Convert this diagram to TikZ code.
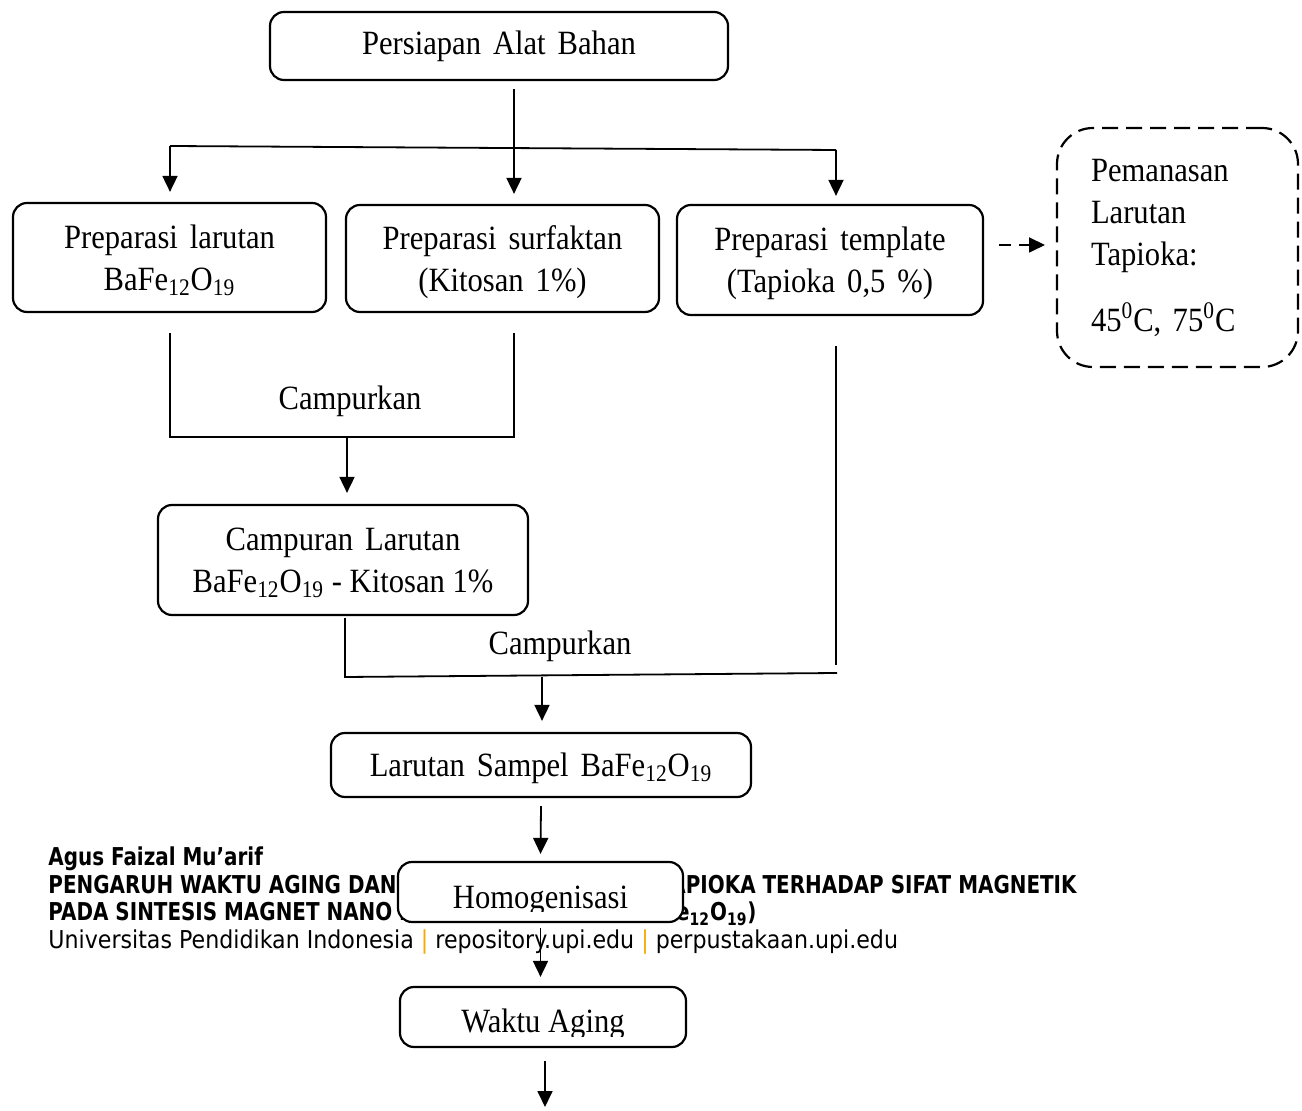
\documentclass[tikz,border=0pt]{standalone}
\usepackage{fontspec}
\setmainfont{Liberation Serif}[FakeStretch = 0.9]
\newfontfamily\footfont{DejaVu Sans}[FakeStretch = 0.9]
\newfontfamily\footbold{DejaVu Sans}[FakeStretch = 0.81]
\usetikzlibrary{
    arrows.meta
}
\definecolor{footbar}{RGB}{245,170,0}
\newcommand{\bafe}{BaFe\textsubscript{12}O\textsubscript{19}}
\tikzset {
    stepbox/.style = {draw, fill = white, rounded corners = 7pt, line width = 1.1pt,
        align = center, inner sep = 0pt,
        font = {\fontsize{17}{21}\selectfont\spaceskip 6pt plus 1pt\relax}},
    low text/.style = {text depth = -1pt},
    heatbox/.style = {draw, dash pattern = on 8pt off 4pt, rounded corners = 18pt,
        line width = 1.1pt, align = left, inner sep = 0pt},
    empty/.style = {inner sep = 0pt},
    link/.style = {line width = 0.9pt},
    flow/.style = {link, -{Triangle[width = 7.5pt, length = 8pt]}},
    foot/.style = {inner sep = 0pt, font = \footfont\fontsize{12.3}{14}\selectfont},
    foot bold/.style = {inner sep = 0pt, font = \footbold\bfseries\fontsize{12.3}{14}\selectfont}
}
\begin{document}
\begin{tikzpicture}[x = 0.5pt, y = -0.5pt, font = \fontsize{17}{21}\selectfont]
    \useasboundingbox (0, 0) rectangle (1302, 1111);
    % page footer lying under the chart
    \node (author) [foot bold, anchor = base west] at (48, 866) {Agus Faizal Mu’arif};
    \node (titleA) [foot bold, anchor = base west] at (48, 894) {PENGARUH WAKTU AGING DAN};
    \node (titleB) [foot bold, anchor = base east] at (1077, 894) {APIOKA TERHADAP SIFAT MAGNETIK};
    \node (titleC) [foot bold, anchor = base west] at (48, 921) {PADA SINTESIS MAGNET NANO B};
    \node (titleD) [foot bold, anchor = base east] at (757, 921) {Fe\textsubscript{12}O\textsubscript{19})};
    \node (univ) [foot, anchor = base west] at (48, 949) {Universitas Pendidikan Indonesia
        {\color{footbar}|} repository.upi.edu {\color{footbar}|} perpustakaan.upi.edu};
    % boxes
    \node (prep) [stepbox, minimum width = 229pt, minimum height = 34pt] at (499, 46)
        {Persiapan Alat Bahan};
    \node (prepBa) [stepbox, low text, minimum width = 156.5pt, minimum height = 54.5pt]
        at (169.5, 257.5) {Preparasi larutan\\\bafe};
    \node (prepKit) [stepbox, low text, minimum width = 156.5pt, minimum height = 53.5pt]
        at (502.5, 258.5) {Preparasi surfaktan\\(Kitosan 1\%)};
    \node (prepTap) [stepbox, low text, minimum width = 153pt, minimum height = 55pt]
        at (830, 260) {Preparasi template\\(Tapioka 0,5 \%)};
    \node (heat) [heatbox, minimum width = 120.5pt, minimum height = 119.5pt,
        text width = 86.5pt] at (1177.5, 247.5)
        {Pemanasan\\Larutan\\Tapioka:\\[12pt]45\textsuperscript{0}C, 75\textsuperscript{0}C};
    \node (mixA) [stepbox, low text, minimum width = 185pt, minimum height = 55pt]
        at (343, 560) {Campuran Larutan\\{\spaceskip 0pt\relax\bafe{} - Kitosan 1\%}};
    \node (sample) [stepbox, low text, minimum width = 210pt, minimum height = 32pt]
        at (541, 765) {Larutan Sampel \bafe};
    \node (homog) [stepbox, minimum width = 142.5pt, minimum height = 30pt] at (540.5, 892) {};
    \node (aging) [stepbox, minimum width = 143pt, minimum height = 30pt] at (543, 1017) {};
    \begin{scope}
        \clip (homog.north west) rectangle ([yshift = 6pt]homog.south east);
        \node (homogT) [empty, anchor = base] at (540.5, 909) {Homogenisasi};
    \end{scope}
    \begin{scope}
        \clip (aging.north west) rectangle ([yshift = 6pt]aging.south east);
        \node (agingT) [empty, anchor = base] at (543, 1033) {Waktu Aging};
    \end{scope}
    % labels
    \node (mixLab1) [empty] at (350, 401) {Campurkan};
    \node (mixLab2) [empty] at (560, 646) {Campurkan};
    % junction points
    \coordinate (fork) at (514, 147);
    \coordinate (busL) at (170, 146);
    \coordinate (busR) at (836, 150);
    \coordinate (m1L) at (170, 437);
    \coordinate (m1R) at (514, 437);
    \coordinate (m1mid) at (347, 437);
    \coordinate (m2L) at (345, 677);
    \coordinate (m2R) at (837, 673);
    \coordinate (m2top) at (836, 665);
    \coordinate (m2mid) at (542, 677);
    \coordinate (heatIn) at (1045, 245);
    \coordinate (next) at (545, 1107);
    % connectors
    \draw [flow] ([yshift = -4pt]prep.south -| fork) -- ([yshift = 5pt]prepKit.north -| fork);
    \draw [link] (busL) -- (busR);
    \draw [flow] (busL) -- ([yshift = 5pt]prepBa.north -| busL);
    \draw [flow] (busR) -- ([yshift = 4pt]prepTap.north -| busR);
    \draw [flow, dash pattern = on 6pt off 4pt] (prepTap.east |- heatIn) ++(7.5pt, 0) -- (heatIn);
    \draw [link] ([yshift = -10pt]prepBa.south -| m1L) -- (m1L) -- (m1R)
        -- ([yshift = -10pt]prepKit.south -| m1R);
    \draw [flow] (m1mid) -- ([yshift = 5.5pt]mixA.north -| m1mid);
    \draw [link] ([yshift = -1pt]mixA.south -| m2L) -- (m2L) -- (m2R);
    \draw [link] ([yshift = -15pt]prepTap.south -| m2top) -- (m2top);
    \draw [flow] (m2mid) -- ([yshift = 5.5pt]sample.north -| m2mid);
    \draw [flow] ([yshift = -4pt]sample.south) -- ([yshift = 3.5pt]homog.north);
    \draw [flow] ([yshift = -2.5pt]homog.south) -- ([yshift = 4.5pt]aging.north -| homog);
    \draw [flow] ([yshift = -6.5pt]aging.south -| next) -- (next);
\end{tikzpicture}
\end{document}
